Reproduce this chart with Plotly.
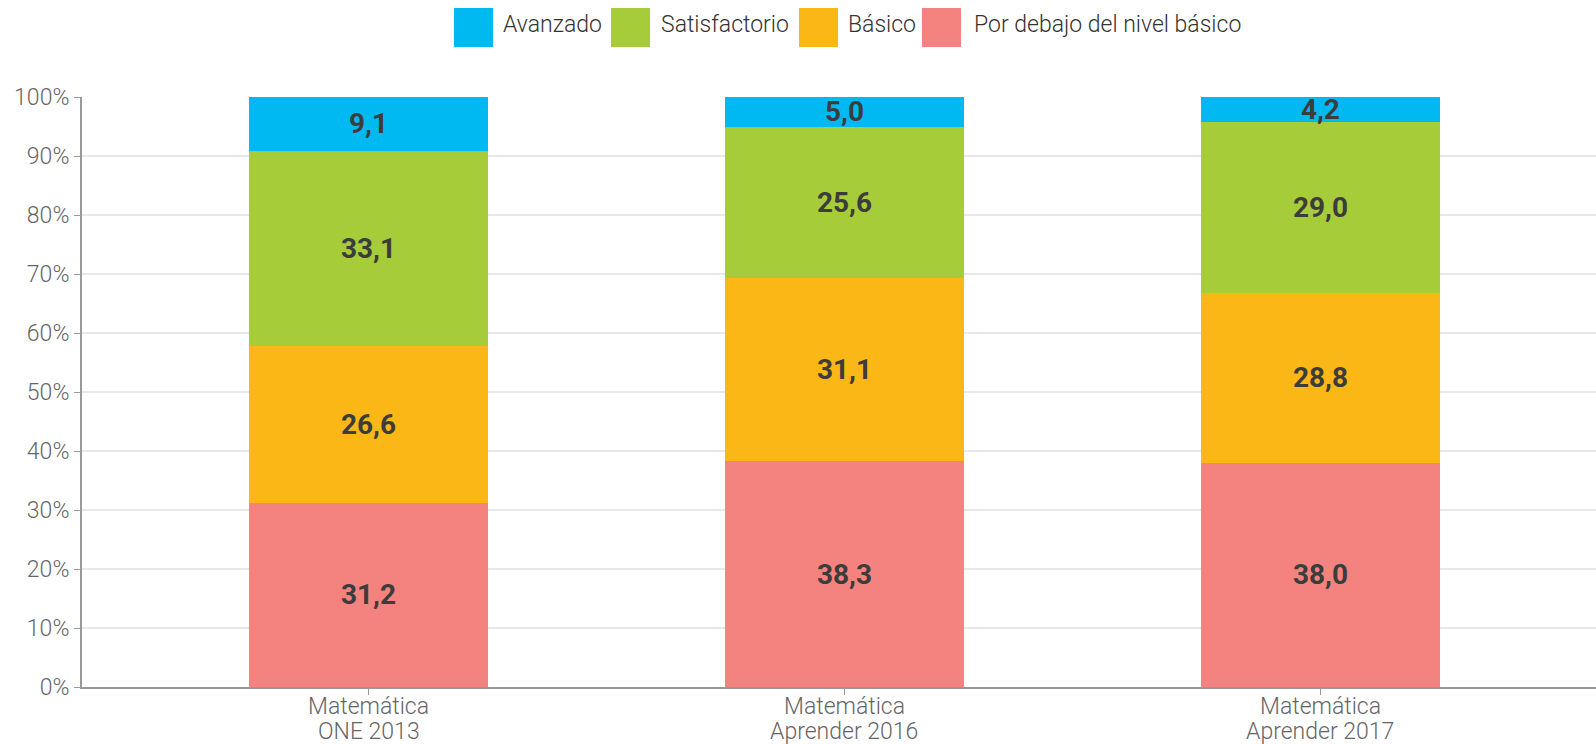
import plotly.graph_objects as go

cat_line1 = ["Matemática", "Matemática", "Matemática"]
cat_line2 = ["ONE 2013", "Aprender 2016", "Aprender 2017"]
categories = [f"{a} {b}" for a, b in zip(cat_line1, cat_line2)]
series_names = ["Por debajo del nivel básico", "Básico", "Satisfactorio", "Avanzado"]
por_debajo = [31.2, 38.3, 38.0]
basico = [26.6, 31.1, 28.8]
satisfactorio = [33.1, 25.6, 29.0]
avanzado = [9.1, 5.0, 4.2]
colors = ["#F4837F", "#FBB715", "#A6CC39", "#00B9F1"]
y_ticks = [0, 10, 20, 30, 40, 50, 60, 70, 80, 90, 100]
y_tick_labels = [f"{v}%" for v in y_ticks]
legend_order = ["Avanzado", "Satisfactorio", "Básico", "Por debajo del nivel básico"]

W, H = 1596, 744
ML, MR, MT, MB = 82, 0, 97, 57
PW, PH = W - ML - MR, H - MT - MB

def px_x(p):
    return (p - ML) / PW

def px_y(p):
    return (H - MB - p) / PH

label_font = dict(family="Roboto, sans-serif", size=28, color="#3c3c3c", weight="bold")
tick_font = dict(family="Roboto", size=23, color="#666666", weight=300)

fig = go.Figure()
for name, vals, col in zip(series_names, [por_debajo, basico, satisfactorio, avanzado], colors):
    fig.add_trace(go.Bar(
        x=categories, y=vals, name=name, marker=dict(color=col, line=dict(width=0)),
        width=0.502,
        text=[f"{v:.1f}".replace(".", ",") for v in vals],
        textposition="inside", insidetextanchor="middle",
        textfont=label_font, showlegend=False, hoverinfo="skip",
    ))

# manual legend
sq_left = [454, 611, 799, 922]
txt_left = [501, 659, 846, 972]
col_map = dict(zip(series_names, colors))
for name, sl, tl in zip(legend_order, sq_left, txt_left):
    fig.add_shape(type="rect", xref="paper", yref="paper",
                  x0=px_x(sl), x1=px_x(sl + 39), y0=px_y(47), y1=px_y(8),
                  fillcolor=col_map[name], line=dict(width=0))
    fig.add_annotation(xref="paper", yref="paper", x=px_x(tl), y=px_y(25),
                       xanchor="left", yanchor="middle", text=name, showarrow=False,
                       font=dict(family="Roboto", size=23, color="#333333", weight=300))

# category labels (two lines, tighter spacing than plotly's <br>)
for cat, l1, l2 in zip(categories, cat_line1, cat_line2):
    fig.add_annotation(xref="x", yref="paper", x=cat, y=px_y(706), xanchor="center",
                       yanchor="middle", text=l1, showarrow=False, font=tick_font)
    fig.add_annotation(xref="x", yref="paper", x=cat, y=px_y(731), xanchor="center",
                       yanchor="middle", text=l2, showarrow=False, font=tick_font)

fig.update_layout(
    width=W, height=H,
    margin=dict(l=ML, r=MR, t=MT, b=MB, pad=0, autoexpand=False),
    barmode="stack",
    paper_bgcolor="white", plot_bgcolor="white",
    font=dict(family="Roboto", size=23, color="#666666", weight=300),
    uniformtext=dict(mode="show", minsize=28),
    showlegend=False,
)
fig.update_xaxes(range=[-0.602, 2.579], showline=True, linecolor="#999999", linewidth=2,
                 ticks="outside", ticklen=6, tickcolor="#999999", tickwidth=1,
                 showticklabels=False, automargin=False,
                 showgrid=False, zeroline=False)
fig.update_yaxes(range=[0, 100], tickvals=y_ticks, ticktext=y_tick_labels,
                 showline=True, linecolor="#999999", linewidth=2,
                 ticks="outside", ticklen=6, tickcolor="#999999", tickwidth=1,
                 tickfont=tick_font, automargin=False,
                 showgrid=True, gridcolor="#e8e8e8", gridwidth=1.5, zeroline=False)

fig.write_html("out.html", config={"displayModeBar": False},
               post_script="document.body.style.margin='0';document.body.style.overflow='hidden';")
